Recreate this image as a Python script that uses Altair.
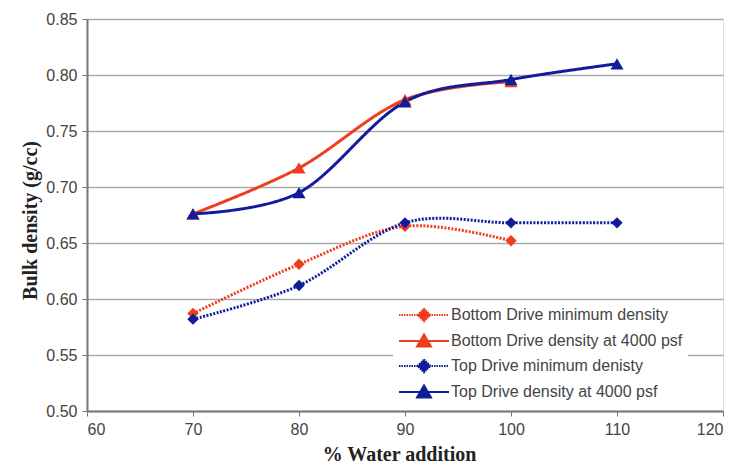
import altair as alt
import pandas as pd

# ---- data ----
x_vals = [70, 80, 90, 100, 110]
bottom_min = [0.587, 0.631, 0.665, 0.652]
bottom_4000 = [0.676, 0.717, 0.778, 0.794]
top_min = [0.582, 0.612, 0.668, 0.668, 0.668]
top_4000 = [0.676, 0.695, 0.776, 0.796, 0.810]

series_names = [
    "Bottom Drive minimum density",
    "Bottom Drive density at 4000 psf",
    "Top Drive minimum denisty",
    "Top Drive density at 4000 psf",
]
series_values = [bottom_min, bottom_4000, top_min, top_4000]

x_ticks = [60, 70, 80, 90, 100, 110, 120]
y_ticks = [0.50, 0.55, 0.60, 0.65, 0.70, 0.75, 0.80, 0.85]

# ---- styles ----
RED = "#EE3D1F"
BLUE = "#101C9A"
colors = [RED, RED, BLUE, BLUE]
dashes = [[2, 1.5], [1, 0], [2, 1.5], [1, 0]]
legend_dashes = [[1.5, 1], [1, 0], [1.5, 1], [1, 0]]
markers = ["diamond", "triangle-up", "diamond", "triangle-up"]
marker_sizes = [130, 170, 130, 170]
# legend glyphs: a line stub with the marker in the middle (unit = 5px)
legend_paths = [
    "M-5,0L5,0M0,-1.3L1.3,0L0,1.3L-1.3,0Z",
    "M-5,0L5,0M0,-1.3L1.4,1.1L-1.4,1.1Z",
    "M-5,0L5,0M0,-1.3L1.3,0L0,1.3L-1.3,0Z",
    "M-5,0L5,0M0,-1.3L1.4,1.1L-1.4,1.1Z",
]

rows = []
for name, vals in zip(series_names, series_values):
    for xv, yv in zip(x_vals, vals):
        rows.append({"x": xv, "y": yv, "series": name})
df = pd.DataFrame(rows)

LABEL_FONT = "Liberation Sans"
TITLE_FONT = "Liberation Serif"

x_enc = alt.X(
    "x:Q",
    scale=alt.Scale(domain=[60, 120], nice=False, zero=False),
    axis=alt.Axis(
        values=x_ticks,
        title="% Water addition",
        grid=False,
        zindex=1,
        labelFontSize=16,
        labelFont=LABEL_FONT,
        labelColor="#444444",
        labelPadding=5,
        tickSize=5,
        tickColor="#777777",
        domainColor="#777777",
        domainWidth=2,
        titleFont=TITLE_FONT,
        titleFontSize=20,
        titleFontWeight="bold",
        titleColor="#222222",
        titleX=312,
        titleY=53,
        titleAlign="center",
        titleBaseline="bottom",
    ),
)
y_enc = alt.Y(
    "y:Q",
    scale=alt.Scale(domain=[0.5, 0.85], nice=False, zero=False),
    axis=alt.Axis(
        values=y_ticks,
        format=".2f",
        title="Bulk density (g/cc)",
        grid=True,
        gridColor="#aaaaaa",
        gridWidth=1.5,
        labelFontSize=16,
        labelFont=LABEL_FONT,
        labelColor="#444444",
        labelPadding=5,
        tickSize=5,
        tickColor="#777777",
        domainColor="#777777",
        domainWidth=2,
        titleFont=TITLE_FONT,
        titleFontSize=20,
        titleFontWeight="bold",
        titleColor="#222222",
        titleAngle=270,
        titleX=-57,
        titleY=201,
        titleAlign="center",
        titleBaseline="middle",
    ),
)

base = alt.Chart(df)

layers = []
for i, name in enumerate(series_names):
    layers.append(
        base.transform_filter(alt.datum.series == name)
        .mark_line(
            color=colors[i],
            strokeDash=dashes[i],
            strokeWidth=3,
            interpolate="cardinal",
        )
        .encode(x=x_enc, y=y_enc)
    )
for i, name in enumerate(series_names):
    layers.append(
        base.transform_filter(alt.datum.series == name)
        .mark_point(
            shape=markers[i],
            size=marker_sizes[i],
            filled=True,
            color=colors[i],
            opacity=1,
        )
        .encode(x=x_enc, y=y_enc)
    )

leg = alt.Legend(
    title=None,
    orient="none",
    legendX=306,
    legendY=283,
    fillColor="white",
    padding=5,
    symbolSize=100,
    symbolOffset=18,
    symbolStrokeWidth=2,
    labelFontSize=16,
    labelFont=LABEL_FONT,
    labelColor="#444444",
    labelOffset=19,
    labelLimit=400,
    rowPadding=4,
    zindex=0,
)

legend_layer = (
    base.transform_filter("datum.x > 1000")
    .mark_point(filled=True, strokeWidth=2, opacity=1)
    .encode(
        x=x_enc,
        y=y_enc,
        color=alt.Color("series:N", scale=alt.Scale(domain=series_names, range=colors), legend=leg),
        stroke=alt.Stroke("series:N", scale=alt.Scale(domain=series_names, range=colors), legend=leg),
        shape=alt.Shape("series:N", scale=alt.Scale(domain=series_names, range=legend_paths), legend=leg),
        strokeDash=alt.StrokeDash("series:N", scale=alt.Scale(domain=series_names, range=legend_dashes), legend=leg),
    )
)
layers.append(legend_layer)

chart = (
    alt.layer(*layers)
    .properties(
        width=636,
        height=392,
        padding={"left": 79, "top": 11, "right": 8, "bottom": 54},
        autosize=alt.AutoSizeParams(type="none"),
    )
    .configure_view(stroke="#777777", strokeWidth=2)
    .configure(background="white")
)

chart.save("out.html", embed_options={"renderer": "svg", "actions": False})
